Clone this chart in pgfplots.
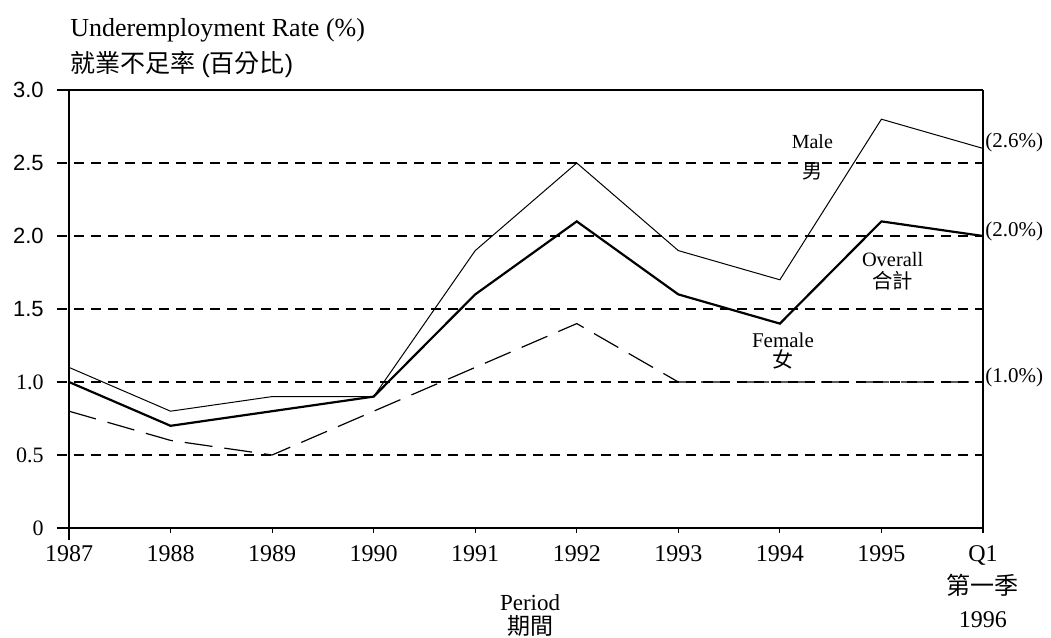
\documentclass[border=0pt]{standalone}
\usepackage{pgfplots}
\pgfplotsset{compat=1.18}
\usepackage{fontspec}
\setmainfont{Liberation Serif}
\setsansfont{Liberation Sans}
\newfontfamily\cjk{Noto Sans CJK TC}
\begin{document}
\begin{tikzpicture}[x=1pt,y=1pt]
\path[use as bounding box] (0,0) rectangle (525.5,319);
\begin{axis}[
  at={(34.5pt,55pt)}, anchor=origin,
  scale only axis, width=457pt, height=219pt,
  xmin=0, xmax=9, ymin=0, ymax=3,
  axis x line=bottom, axis y line=left,
  axis line style={draw=none},
  clip=false,
  xtick={0,...,9},
  xticklabels={1987,1988,1989,1990,1991,1992,1993,1994,1995,{Q1\\{\cjk 第一季}\\1996}},
  xticklabel style={align=center, font=\fontsize{12}{16.5}\selectfont, yshift=-3pt},
  ytick={0,0.5,1,1.5,2,2.5,3},
  yticklabels={0,0.5,1.0,{\sffamily 1.5},{\sffamily 2.0},{\sffamily 2.5},{\sffamily 3.0}},
  yticklabel style={font=\fontsize{11}{12}\selectfont, xshift=-7pt},
  tick style={draw=none},
]
% frame and grid
\draw[line width=0.6pt, dash pattern=on 5pt off 3.5pt] (axis cs:-0.12,0.5) -- (axis cs:9,0.5);
\draw[line width=0.6pt, dash pattern=on 5pt off 3.5pt] (axis cs:-0.12,1.0) -- (axis cs:9,1.0);
\draw[line width=0.6pt, dash pattern=on 5pt off 3.5pt] (axis cs:-0.12,1.5) -- (axis cs:9,1.5);
\draw[line width=0.6pt, dash pattern=on 5pt off 3.5pt] (axis cs:-0.12,2.0) -- (axis cs:9,2.0);
\draw[line width=0.6pt, dash pattern=on 5pt off 3.5pt] (axis cs:-0.12,2.5) -- (axis cs:9,2.5);
\draw[line width=0.6pt] (axis cs:-0.12,3) -- (axis cs:9,3);
\draw[line width=0.7pt] (axis cs:-0.12,0) -- (axis cs:9,0);
\draw[line width=0.7pt] (axis cs:0,3) -- (axis cs:0,-0.08);
\draw[line width=0.6pt] (axis cs:9,3) -- (axis cs:9,0);
\pgfplotsinvokeforeach{1,...,9}{\draw[line width=0.6pt] (axis cs:#1,0) -- (axis cs:#1,-0.035);}
% data
\addplot[black, line width=0.5pt] coordinates {(0,1.1) (1,0.8) (2,0.9) (3,0.9) (4,1.9) (5,2.5) (6,1.9) (7,1.7) (8,2.8) (9,2.6)};
\addplot[black, line width=1.1pt] coordinates {(0,1.0) (1,0.7) (2,0.8) (3,0.9) (4,1.6) (5,2.1) (6,1.6) (7,1.4) (8,2.1) (9,2.0)};
\addplot[black, line width=0.6pt, dash pattern=on 14pt off 6pt] coordinates {(0,0.8) (1,0.6) (2,0.5) (3,0.8) (4,1.1) (5,1.4) (6,1.0) (7,1.0) (8,1.0) (9,1.0)};
% labels
\node[align=center, font=\fontsize{10}{15}\selectfont] at (axis cs:7.32,2.54) {Male\\{\cjk 男}};
\node[align=center, font=\fontsize{10.2}{11}\selectfont] at (axis cs:8.11,1.76) {Overall\\{\cjk 合計}};
\node[align=center, font=\fontsize{10.5}{10}\selectfont] at (axis cs:7.03,1.21) {Female\\{\cjk 女}};
\node[anchor=west, font=\fontsize{10.5}{12}\selectfont, inner sep=1pt] at (axis cs:9,2.64) {(2.6\%)};
\node[anchor=west, font=\fontsize{10.5}{12}\selectfont, inner sep=1pt] at (axis cs:9,2.03) {(2.0\%)};
\node[anchor=west, font=\fontsize{10.5}{12}\selectfont, inner sep=1pt] at (axis cs:9,1.03) {(1.0\%)};
\node[align=center, font=\fontsize{11.5}{12}\selectfont, anchor=north, inner sep=1pt] at (axis cs:4.54,-0.44) {Period\\{\cjk 期間}};
\end{axis}
\node[anchor=west, font=\fontsize{13}{14}\selectfont, inner sep=0pt] at (35,304) {Underemployment Rate (\%)};
\node[anchor=west, font=\fontsize{12.5}{14}\selectfont, inner sep=0pt] at (35,286.5) {{\cjk 就業不足率} {\sffamily (}{\cjk 百分比}{\sffamily )}};
\end{tikzpicture}
\end{document}
